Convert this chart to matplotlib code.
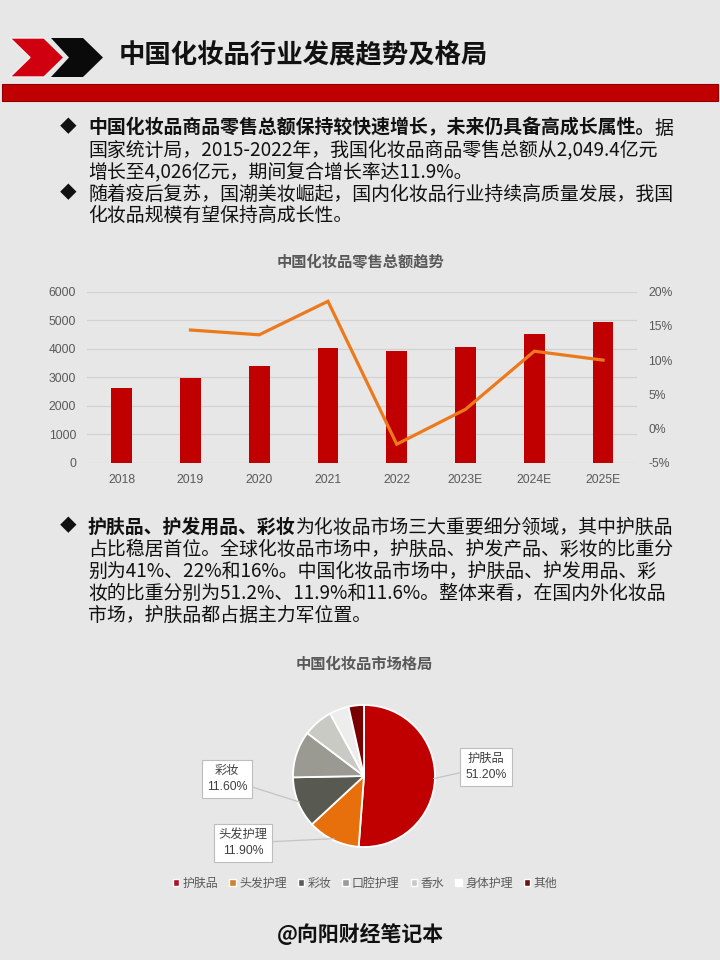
import matplotlib
matplotlib.use('Agg')
import matplotlib.pyplot as plt
from matplotlib.patches import Polygon, Rectangle, Patch
from matplotlib.font_manager import findfont, FontProperties, get_font
import numpy as np

plt.rcParams['font.family'] = ['Noto Sans CJK SC', 'DejaVu Sans']

# ---------------- data ----------------
years = ['2018', '2019', '2020', '2021', '2022', '2023E', '2024E', '2025E']
sales = [2630, 2980, 3390, 4035, 3930, 4070, 4515, 4945]          # 亿元
growth = [np.nan, 14.4, 13.7, 18.6, -2.3, 2.8, 11.3, 10.0]         # %
left_ticks = [0, 1000, 2000, 3000, 4000, 5000, 6000]
right_ticks = [-5, 0, 5, 10, 15, 20]

pie_labels = ['护肤品', '头发护理', '彩妆', '口腔护理', '香水', '身体护理', '其他']
pie_values = [51.2, 11.9, 11.6, 10.6, 6.8, 4.4, 3.5]
pie_colors = ['#c00000', '#e8700c', '#585a52', '#9a9a92', '#cacac4', '#ededed', '#780000']
legend_colors = ['#b0102a', '#d08030', '#5a5a5a', '#9a9a9a', '#c8c8c8', '#ffffff', '#701010']
callout_idx = [0, 1, 2]
callout_text = ['护肤品\n51.20%', '头发护理\n11.90%', '彩妆\n11.60%']

title = '中国化妆品行业发展趋势及格局'
bar_title = '中国化妆品零售总额趋势'
pie_title = '中国化妆品市场格局'
footer = '@向阳财经笔记本'

para1 = [
    [('中国化妆品商品零售总额保持较快速增长，未来仍具备高成长属性。', True), ('据', False)],
    [('国家统计局，2015-2022年，我国化妆品商品零售总额从2,049.4亿元', False)],
    [('增长至4,026亿元，期间复合增长率达11.9%。', False)],
]
para2 = [
    [('随着疫后复苏，国潮美妆崛起，国内化妆品行业持续高质量发展，我国', False)],
    [('化妆品规模有望保持高成长性。', False)],
]
para3 = [
    [('护肤品、护发用品、彩妆', True), ('为化妆品市场三大重要细分领域，其中护肤品', False)],
    [('占比稳居首位。全球化妆品市场中，护肤品、护发产品、彩妆的比重分', False)],
    [('别为41%、22%和16%。中国化妆品市场中，护肤品、护发用品、彩', False)],
    [('妆的比重分别为51.2%、11.9%和11.6%。整体来看，在国内外化妆品', False)],
    [('市场，护肤品都占据主力军位置。', False)],
]

BG = '#e7e7e7'
RED = '#c00000'
GRAY_TXT = '#595959'
NUM_FONT = ['Liberation Sans', 'Noto Sans CJK SC', 'DejaVu Sans']

fig = plt.figure(figsize=(7.2, 9.6), dpi=100, facecolor=BG)
ov = fig.add_axes([0, 0, 1, 1])
ov.set_xlim(0, 720)
ov.set_ylim(960, 0)
ov.axis('off')
ov.set_zorder(0)

# header
ov.add_patch(Polygon([(10, 38), (44, 38), (64, 57.5), (44, 77), (10, 77), (30, 57.5)],
                     closed=True, fc='#d00010', ec='#f0f0f0', lw=1.0))
ov.add_patch(Polygon([(51, 38), (83, 38), (103, 57.5), (83, 77), (51, 77), (69, 57.5)],
                     closed=True, fc='#0a0a0a', ec='none'))
ov.text(119, 56, title, fontsize=19, weight='bold', ha='left', va='center', color='#111111')
ov.add_patch(Rectangle((2, 84), 716, 17, fc=RED, ec='#900000', lw=0.8))

FS = 13.6


def seg_advance(txt, bold):
    fp = FontProperties(family=['Noto Sans CJK SC'], weight='bold' if bold else 'normal', size=FS)
    f = get_font(findfont(fp))
    f.set_size(FS, 100)
    total = 0.0
    for ch in txt:
        g = f.load_char(ord(ch))
        total += g.linearHoriAdvance / 65536.0
    return total


def draw_para(lines, y0, dy):
    ov.text(68, y0, '◆', fontsize=12, ha='center', va='center', color='#111111')
    for i, line in enumerate(lines):
        x = 88
        y = y0 + i * dy
        for txt, bold in line:
            ov.text(x, y, txt, fontsize=FS, weight='bold' if bold else 'normal',
                    ha='left', va='center', color='#111111')
            x += seg_advance(txt, bold)


draw_para(para1, 128, 21.7)
draw_para(para2, 194, 21.7)
draw_para(para3, 527, 22.2)

# ---------------- bar + line chart ----------------
ov.text(360, 261, bar_title, fontsize=11, weight='bold', ha='center', va='center', color=GRAY_TXT)
L, R, T, B = 87.3, 637.4, 291.7, 462.7
axb = fig.add_axes([L / 720, (960 - B) / 960, (R - L) / 720, (B - T) / 960])
axb.set_facecolor('none')
xs = np.arange(len(years))
axb.bar(xs, sales, width=0.3, color=RED, zorder=3)
axb.set_xlim(-0.5, len(years) - 0.5)
axb.set_ylim(0, 6000)
axb.set_yticks(left_ticks)
axb.set_xticks(xs, years)
axb.grid(axis='y', color='#d2d2d2', lw=0.9, zorder=0)
axb.set_axisbelow(True)
for s in axb.spines.values():
    s.set_visible(False)
axb.tick_params(axis='both', length=0, labelsize=8.7, labelcolor=GRAY_TXT)
axb.tick_params(axis='y', pad=8)
axb.tick_params(axis='x', pad=8)
for lab in axb.get_xticklabels() + axb.get_yticklabels():
    lab.set_family(NUM_FONT)

ax2 = axb.twinx()
ax2.plot(xs[1:], growth[1:], color='#ec7a1c', lw=2.3, solid_joinstyle='miter', zorder=4)
ax2.set_ylim(-5, 20)
ax2.set_yticks(right_ticks, [f'{v}%' for v in right_ticks])
for s in ax2.spines.values():
    s.set_visible(False)
ax2.tick_params(axis='y', length=0, labelsize=8.7, labelcolor=GRAY_TXT, pad=8)
for lab in ax2.get_yticklabels():
    lab.set_family(NUM_FONT)

# ---------------- pie ----------------
ov.text(364, 664, pie_title, fontsize=11, weight='bold', ha='center', va='center', color=GRAY_TXT)
cx, cy, r = 364, 776, 71
lim = 1.06
axp = fig.add_axes([(cx - r * lim) / 720, (960 - cy - r * lim) / 960, 2 * r * lim / 720, 2 * r * lim / 960])
wedges, _ = axp.pie(pie_values, colors=pie_colors, startangle=90, counterclock=False,
                    wedgeprops=dict(edgecolor='white', linewidth=1.3))
axp.set_xlim(-lim, lim)
axp.set_ylim(-lim, lim)
axp.set_aspect('equal')

cum = np.cumsum([0] + pie_values)
mid = np.deg2rad(90 - 360 * (cum[:-1] + cum[1:]) / 2 / 100)
box_pos = [(486, 767), (243, 843), (227, 779)]
for k, idx in enumerate(callout_idx):
    axp.annotate(callout_text[k], xy=(0.98 * np.cos(mid[idx]), 0.98 * np.sin(mid[idx])), xycoords='data',
                 xytext=box_pos[k], textcoords=ov.transData, ha='center', va='center',
                 fontsize=8.8, color='#404040', linespacing=1.4, family=NUM_FONT,
                 bbox=dict(boxstyle='square,pad=0.4', fc='white', ec='#bdbdbd', lw=0.8),
                 arrowprops=dict(arrowstyle='-', color='#c4c4c4', lw=0.9, shrinkA=0, shrinkB=0),
                 annotation_clip=False, zorder=5)

handles = [Patch(facecolor=c, edgecolor='white', lw=1.0) for c in legend_colors]
leg = ov.legend(handles, pie_labels, loc='center', bbox_to_anchor=(365 / 720, 1 - 883 / 960),
                bbox_transform=fig.transFigure, ncol=7, frameon=False, fontsize=8.6,
                handlelength=0.55, handleheight=0.55, handletextpad=0.25, columnspacing=0.95,
                labelcolor=GRAY_TXT, borderaxespad=0)

ov.text(360, 934, footer, fontsize=15, weight='bold', ha='center', va='center', color='#111111')

fig.savefig('out.png', dpi=100, facecolor=BG)
